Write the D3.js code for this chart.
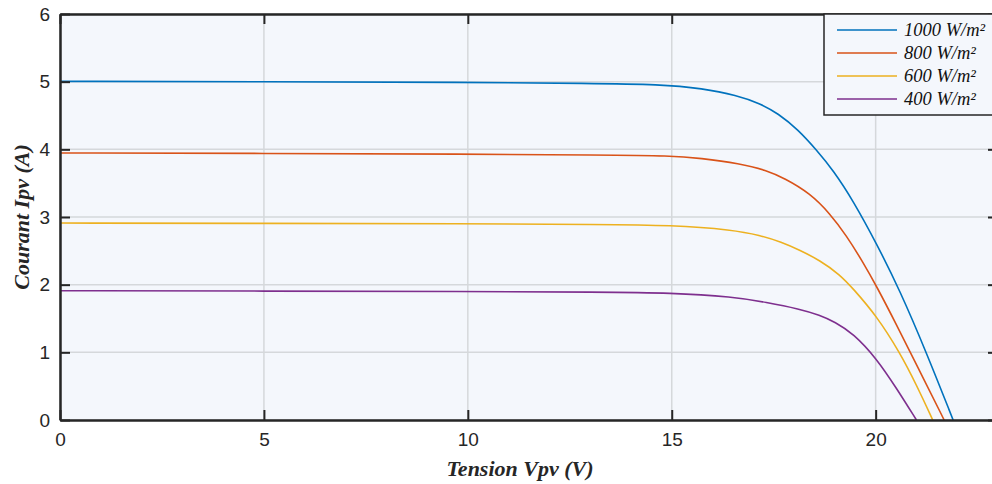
<!DOCTYPE html>
<html><head><meta charset="utf-8">
<script src="https://cdn.jsdelivr.net/npm/d3@7"></script>
<style>body{margin:0;background:#fff}svg{display:block}</style>
</head><body>
<svg id="c" width="992" height="484"></svg>
<script>
const xTicks = [0, 5, 10, 15, 20];
const yTicks = [0, 1, 2, 3, 4, 5, 6];
const seriesNames = ["1000 W/m²", "800 W/m²", "600 W/m²", "400 W/m²"];
const colors = ["#0072BD", "#D95319", "#EDB120", "#7E2F8E"];
const v1000 = [0, 5, 10, 13, 14.71, 15.76, 16.59, 17.16, 17.61, 18.10, 18.55, 18.96, 19.45, 20.02, 20.59, 21.25, 21.9];
const i1000 = [5.005, 5.0, 4.99, 4.975, 4.96, 4.90, 4.80, 4.68, 4.53, 4.29, 3.99, 3.69, 3.24, 2.61, 1.92, 0.99, 0];
const v800 = [0, 5, 10, 13.24, 15, 15.69, 16.67, 17.32, 17.77, 18.39, 18.88, 19.29, 19.69, 20.02, 20.51, 21.0, 21.68];
const i800 = [3.946, 3.94, 3.93, 3.916, 3.906, 3.87, 3.79, 3.69, 3.57, 3.35, 3.05, 2.72, 2.33, 1.98, 1.41, 0.82, 0];
const v600 = [0, 5, 10, 13.24, 15, 16.5, 17.16, 17.69, 18.14, 18.63, 19.12, 19.45, 20.02, 20.59, 21.0, 21.4];
const i600 = [2.911, 2.905, 2.90, 2.89, 2.88, 2.81, 2.73, 2.63, 2.51, 2.36, 2.15, 1.94, 1.54, 1.0, 0.52, 0];
const v400 = [0, 5, 10, 13.24, 15, 16.5, 17.32, 18.14, 18.63, 19.0, 19.45, 20.02, 20.51, 21.0];
const i400 = [1.911, 1.905, 1.90, 1.89, 1.88, 1.82, 1.74, 1.64, 1.55, 1.45, 1.28, 0.91, 0.47, 0];

const V = [v1000, v800, v600, v400];
const I = [i1000, i800, i600, i400];

const svg = d3.select("#c");
const L = 60, T = 14, R = 998, B = 420;
const x = d3.scaleLinear().domain([0, 23]).range([L, R]);
const y = d3.scaleLinear().domain([0, 6]).range([B, T]);

svg.append("rect").attr("x", L).attr("y", T).attr("width", R - L).attr("height", B - T).attr("fill", "#f4f7fc");

// grid
const g = svg.append("g");
g.selectAll(".gx").data(xTicks).join("line")
  .attr("x1", d => x(d)).attr("x2", d => x(d)).attr("y1", T).attr("y2", B)
  .attr("stroke", "#d5d8db").attr("stroke-width", 1.5);
g.selectAll(".gy").data(yTicks).join("line")
  .attr("y1", d => y(d)).attr("y2", d => y(d)).attr("x1", L).attr("x2", R)
  .attr("stroke", "#d5d8db").attr("stroke-width", 1.5);

// lines
const line = d3.line().x(d => x(d[0])).y(d => y(d[1])).curve(d3.curveBasis);
svg.append("clipPath").attr("id", "pc").append("rect").attr("x", L).attr("y", T).attr("width", R - L).attr("height", B - T);
V.forEach((vs, k) => {
  svg.append("path").attr("clip-path", "url(#pc)")
    .datum(vs.map((v, j) => [v, I[k][j]]))
    .attr("d", line).attr("fill", "none").attr("stroke", colors[k]).attr("stroke-width", 1.6);
});

// axes
const tickLen = 10;
const fmt = d3.format("d");
const axB = svg.append("g").attr("transform", `translate(0,${B})`)
  .call(d3.axisBottom(x).tickValues(xTicks).tickFormat(fmt).tickSizeInner(-tickLen).tickSizeOuter(0).tickPadding(10));
const axT = svg.append("g").attr("transform", `translate(0,${T})`)
  .call(d3.axisTop(x).tickValues(xTicks).tickSizeInner(-tickLen).tickSizeOuter(0).tickFormat(""));
const axL = svg.append("g").attr("transform", `translate(${L},0)`)
  .call(d3.axisLeft(y).tickValues(yTicks).tickFormat(fmt).tickSizeInner(-tickLen).tickSizeOuter(0).tickPadding(10));
const axR = svg.append("g").attr("transform", `translate(${R},0)`)
  .call(d3.axisRight(y).tickValues(yTicks).tickSizeInner(-tickLen).tickSizeOuter(0).tickFormat(""));
[axB, axT, axL, axR].forEach(a => {
  a.select(".domain").attr("stroke", "#262626").attr("stroke-width", 2.5);
  a.selectAll(".tick line").attr("stroke", "#262626").attr("stroke-width", 2);
  a.selectAll("text").attr("fill", "#262626").attr("font-family", "'Liberation Sans', Arial, sans-serif").attr("font-size", 19);
});
axB.selectAll("text").attr("dy", "0.85em");

// axis labels
svg.append("text").attr("x", (L + R) / 2 - 9).attr("y", 476).attr("text-anchor", "middle")
  .attr("font-family", "'Liberation Serif', 'Times New Roman', serif").attr("font-style", "italic").attr("font-weight", "bold")
  .attr("font-size", 22).attr("fill", "#262626").text("Tension Vpv (V)");
svg.append("text").attr("transform", `translate(29,${(T + B) / 2}) rotate(-90)`).attr("text-anchor", "middle")
  .attr("font-family", "'Liberation Serif', 'Times New Roman', serif").attr("font-style", "italic").attr("font-weight", "bold")
  .attr("font-size", 22).attr("fill", "#262626").text("Courant Ipv (A)");

// legend
const lg = svg.append("g");
lg.append("rect").attr("x", 824).attr("y", T).attr("width", 180).attr("height", 101)
  .attr("fill", "#f4f7fc").attr("stroke", "#262626").attr("stroke-width", 1.5);
seriesNames.forEach((n, k) => {
  const yy = 30 + k * 23;
  lg.append("line").attr("x1", 837).attr("x2", 897).attr("y1", yy).attr("y2", yy)
    .attr("stroke", colors[k]).attr("stroke-width", 1.6);
  lg.append("text").attr("x", 904).attr("y", yy + 6).attr("font-family", "'Liberation Serif', 'Times New Roman', serif")
    .attr("font-style", "italic").attr("font-size", 18.5).attr("fill", "#111").text(n);
});
</script>
</body></html>
